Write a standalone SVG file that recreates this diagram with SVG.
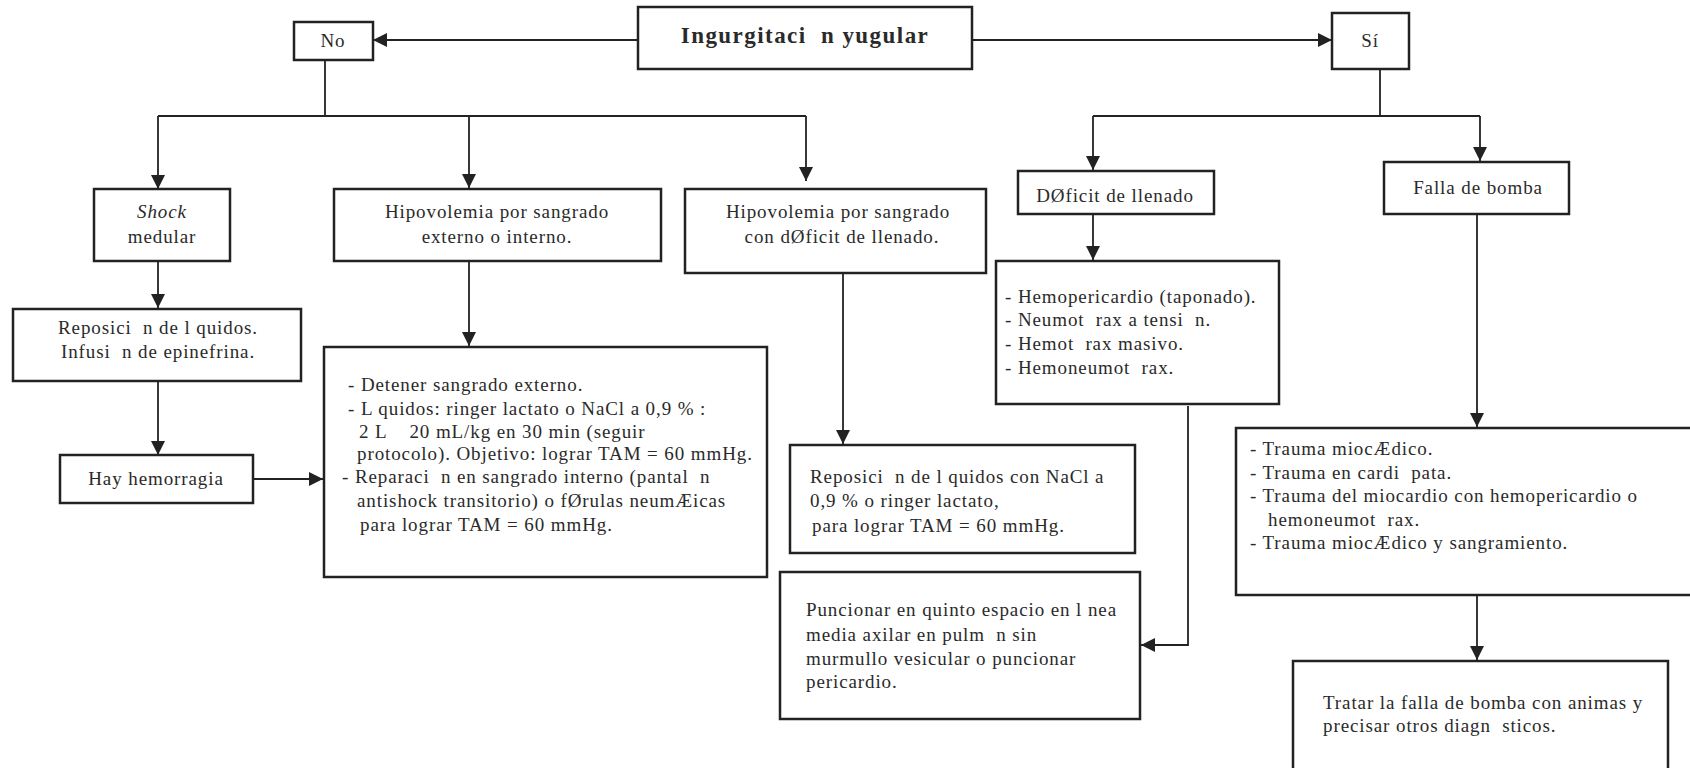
<svg xmlns="http://www.w3.org/2000/svg" width="1690" height="768" viewBox="0 0 1690 768">
<defs>
<style>
.b{fill:#fff;stroke:#222;stroke-width:2.5}
.t{font-family:"Liberation Serif","Times New Roman",serif;font-size:19px;letter-spacing:0.9px;fill:#2a2a2a;white-space:pre}
.c{text-anchor:middle}
.ti{font-weight:bold;font-size:23px;letter-spacing:1.45px}
.ln{fill:none;stroke:#222;stroke-width:1.8}
</style>
<marker id="ah" viewBox="0 0 14 14" refX="14" refY="7" markerWidth="14" markerHeight="14" markerUnits="userSpaceOnUse" orient="auto"><path d="M0,0 L14,7 L0,14z" fill="#222"/></marker>
</defs>
<rect width="1690" height="768" fill="#fff"/>
<g id="connectors">
<path class="ln" d="M638,40 H373" marker-end="url(#ah)"/>
<path class="ln" d="M972,40 H1332" marker-end="url(#ah)"/>
<path class="ln" d="M325,60 V116 M158,116 H806"/>
<path class="ln" d="M158,116 V189" marker-end="url(#ah)"/>
<path class="ln" d="M469,116 V188" marker-end="url(#ah)"/>
<path class="ln" d="M806,116 V181" marker-end="url(#ah)"/>
<path class="ln" d="M1380,69 V116 M1093,116 H1480"/>
<path class="ln" d="M1093,116 V170" marker-end="url(#ah)"/>
<path class="ln" d="M1480,116 V161" marker-end="url(#ah)"/>
<path class="ln" d="M158,261 V308" marker-end="url(#ah)"/>
<path class="ln" d="M158,381 V455" marker-end="url(#ah)"/>
<path class="ln" d="M253,479 H323" marker-end="url(#ah)"/>
<path class="ln" d="M469,261 V346" marker-end="url(#ah)"/>
<path class="ln" d="M843,273 V444" marker-end="url(#ah)"/>
<path class="ln" d="M1093,214 V260" marker-end="url(#ah)"/>
<path class="ln" d="M1188,406 V645 H1141" marker-end="url(#ah)"/>
<path class="ln" d="M1477,214 V427" marker-end="url(#ah)"/>
<path class="ln" d="M1477,595 V660" marker-end="url(#ah)"/>
</g>
<g id="title">
<rect class="b" x="638" y="7" width="334" height="62"/>
<text class="t c ti" x="805" y="43">Ingurgitaci  n yugular</text>
</g>
<g id="no">
<rect class="b" x="294" y="22" width="79" height="38"/>
<text class="t c" x="333" y="47">No</text>
</g>
<g id="si">
<rect class="b" x="1332" y="13" width="77" height="56"/>
<text class="t c" x="1370" y="47">Sí</text>
</g>
<g id="shock">
<rect class="b" x="94" y="189" width="136" height="72"/>
<text class="t c" x="162" y="218" font-style="italic">Shock</text>
<text class="t c" x="162" y="243">medular</text>
</g>
<g id="hipo1">
<rect class="b" x="334" y="189" width="327" height="72"/>
<text class="t c" x="497" y="218">Hipovolemia por sangrado</text>
<text class="t c" x="497" y="243">externo o interno.</text>
</g>
<g id="hipo2">
<rect class="b" x="685" y="189" width="301" height="84"/>
<text class="t c" x="838" y="218">Hipovolemia por sangrado</text>
<text class="t c" x="842" y="243">con dØficit de llenado.</text>
</g>
<g id="reposicion">
<rect class="b" x="13" y="309" width="288" height="72"/>
<text class="t c" x="158" y="334">Reposici  n de l quidos.</text>
<text class="t c" x="158" y="358">Infusi  n de epinefrina.</text>
</g>
<g id="hemorragia">
<rect class="b" x="60" y="455" width="193" height="48"/>
<text class="t c" x="156" y="485">Hay hemorragia</text>
</g>
<g id="detener">
<rect class="b" x="324" y="347" width="443" height="230"/>
<text class="t" x="348" y="391">- Detener sangrado externo.</text>
<text class="t" x="348" y="415">- L quidos: ringer lactato o NaCl a 0,9 % :</text>
<text class="t" x="359" y="438">2 L    20 mL/kg en 30 min (seguir</text>
<text class="t" x="357" y="460">protocolo). Objetivo: lograr TAM = 60 mmHg.</text>
<text class="t" x="342" y="483">- Reparaci  n en sangrado interno (pantal  n</text>
<text class="t" x="357" y="507">antishock transitorio) o fØrulas neumÆicas</text>
<text class="t" x="360" y="531">para lograr TAM = 60 mmHg.</text>
</g>
<g id="reposicion2">
<rect class="b" x="790" y="445" width="345" height="108"/>
<text class="t" x="810" y="483">Reposici  n de l quidos con NaCl a</text>
<text class="t" x="810" y="507">0,9 % o ringer lactato,</text>
<text class="t" x="812" y="532">para lograr TAM = 60 mmHg.</text>
</g>
<g id="puncionar">
<rect class="b" x="780" y="572" width="360" height="147"/>
<text class="t" x="806" y="616">Puncionar en quinto espacio en l nea</text>
<text class="t" x="806" y="641">media axilar en pulm  n sin</text>
<text class="t" x="806" y="665">murmullo vesicular o puncionar</text>
<text class="t" x="806" y="688">pericardio.</text>
</g>
<g id="deficit">
<rect class="b" x="1018" y="171" width="196" height="43"/>
<text class="t c" x="1115" y="202">DØficit de llenado</text>
</g>
<g id="hemopericardio">
<rect class="b" x="996" y="261" width="283" height="143"/>
<text class="t" x="1005" y="303">- Hemopericardio (taponado).</text>
<text class="t" x="1005" y="326">- Neumot  rax a tensi  n.</text>
<text class="t" x="1005" y="350">- Hemot  rax masivo.</text>
<text class="t" x="1005" y="374">- Hemoneumot  rax.</text>
</g>
<g id="falla">
<rect class="b" x="1384" y="162" width="185" height="52"/>
<text class="t c" x="1478" y="194">Falla de bomba</text>
</g>
<g id="trauma">
<rect class="b" x="1236" y="428" width="470" height="167"/>
<text class="t" x="1250" y="455">- Trauma miocÆdico.</text>
<text class="t" x="1250" y="479">- Trauma en cardi  pata.</text>
<text class="t" x="1250" y="502">- Trauma del miocardio con hemopericardio o</text>
<text class="t" x="1268" y="526">hemoneumot  rax.</text>
<text class="t" x="1250" y="549">- Trauma miocÆdico y sangramiento.</text>
</g>
<g id="tratar">
<rect class="b" x="1293" y="661" width="375" height="130"/>
<text class="t" x="1323" y="709">Tratar la falla de bomba con animas y</text>
<text class="t" x="1323" y="732">precisar otros diagn  sticos.</text>
</g>
</svg>
